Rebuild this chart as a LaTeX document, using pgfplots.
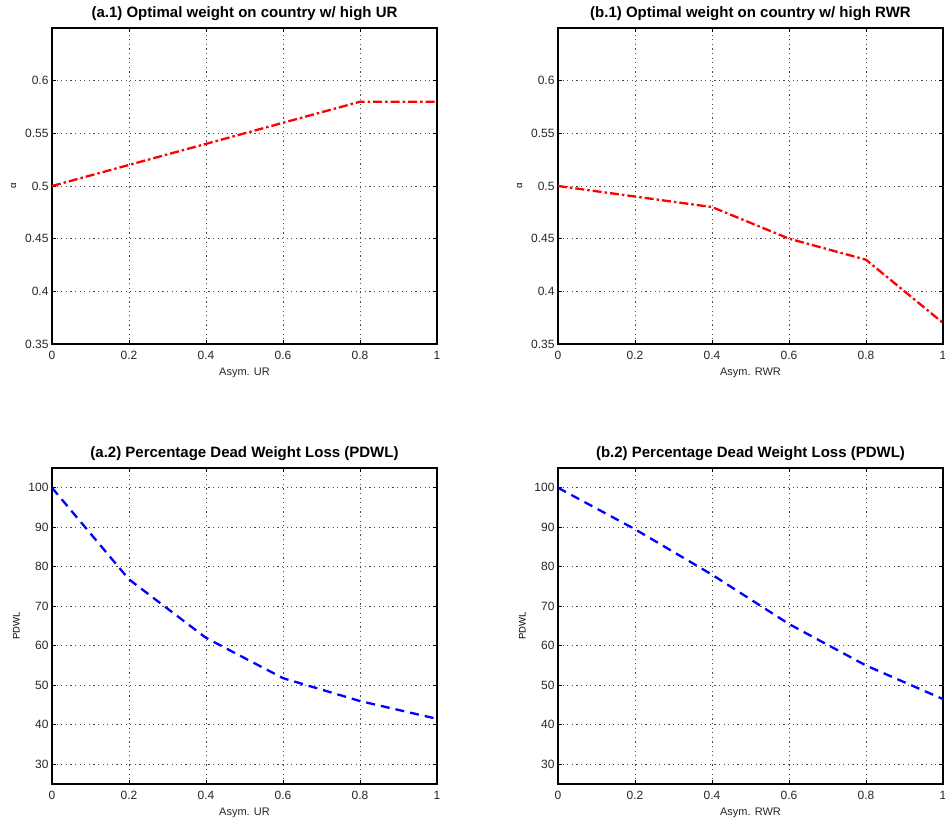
\documentclass[border=0pt]{standalone}
\usepackage{pgfplots}
\pgfplotsset{compat=1.18}
\usepackage{fontspec}
\setmainfont{Liberation Sans}
\begin{document}
\begin{tikzpicture}[x=1pt,y=1pt]
\useasboundingbox (0,0) rectangle (945,825);
\pgfplotsset{
  myax/.style={
    scale only axis, width=385pt, height=316pt, anchor=south west,
    xmin=0, xmax=1, xtick={0,0.2,0.4,0.6,0.8,1},
    grid=major, grid style={dash pattern=on 1.2pt off 3.4pt, black!70, line width=0.7pt},
    axis line style={line width=1.1pt},
    tick align=inside, major tick length=4pt,
    tick style={black, line width=0.6pt},
    /pgf/number format/assume math mode=true,
    tick label style={font=\fontsize{12}{13}\selectfont, black!85},
    xticklabel style={yshift=-4pt},
    xlabel style={font=\fontsize{11}{12}\selectfont, yshift=-1pt, black!85},
    ylabel style={font=\fontsize{9.5}{10}\selectfont, yshift=2pt},
    title style={font=\fontsize{15}{16}\selectfont\bfseries, yshift=-2pt},
  },
  topax/.style={myax, ymin=0.35, ymax=0.65, ytick={0.35,0.4,0.45,0.5,0.55,0.6},
    yticklabels={0.35,0.4,0.45,0.5,0.55,0.6}, ylabel={α}},
  botax/.style={myax, ymin=25, ymax=105, ytick={30,40,50,60,70,80,90,100}, ylabel={PDWL}},
  redl/.style={red, line width=2.3pt, dash pattern=on 9pt off 3pt on 2.5pt off 3pt},
  bluel/.style={blue, line width=2.3pt, dash pattern=on 9pt off 6pt},
}
\begin{axis}[topax, at={(52pt,481pt)}, title={(a.1) Optimal weight on country w/ high UR}, xlabel={Asym. UR}]
\addplot[redl] coordinates {(0,0.5) (0.2,0.52) (0.4,0.54) (0.6,0.56) (0.8,0.58) (1,0.58)};
\end{axis}
\begin{axis}[topax, at={(558pt,481pt)}, title={(b.1) Optimal weight on country w/ high RWR}, xlabel={Asym. RWR}]
\addplot[redl] coordinates {(0,0.5) (0.2,0.49) (0.4,0.48) (0.6,0.45) (0.8,0.43) (1,0.37)};
\end{axis}
\begin{axis}[botax, at={(52pt,41pt)}, title={(a.2) Percentage Dead Weight Loss (PDWL)}, xlabel={Asym. UR}]
\addplot[bluel] coordinates {(0,100) (0.2,76.8) (0.4,62) (0.6,51.8) (0.8,46) (1,41.5)};
\end{axis}
\begin{axis}[botax, at={(558pt,41pt)}, title={(b.2) Percentage Dead Weight Loss (PDWL)}, xlabel={Asym. RWR}]
\addplot[bluel] coordinates {(0,100) (0.2,89.5) (0.4,78) (0.6,65.5) (0.8,55) (1,46.5)};
\end{axis}
\end{tikzpicture}
\end{document}
